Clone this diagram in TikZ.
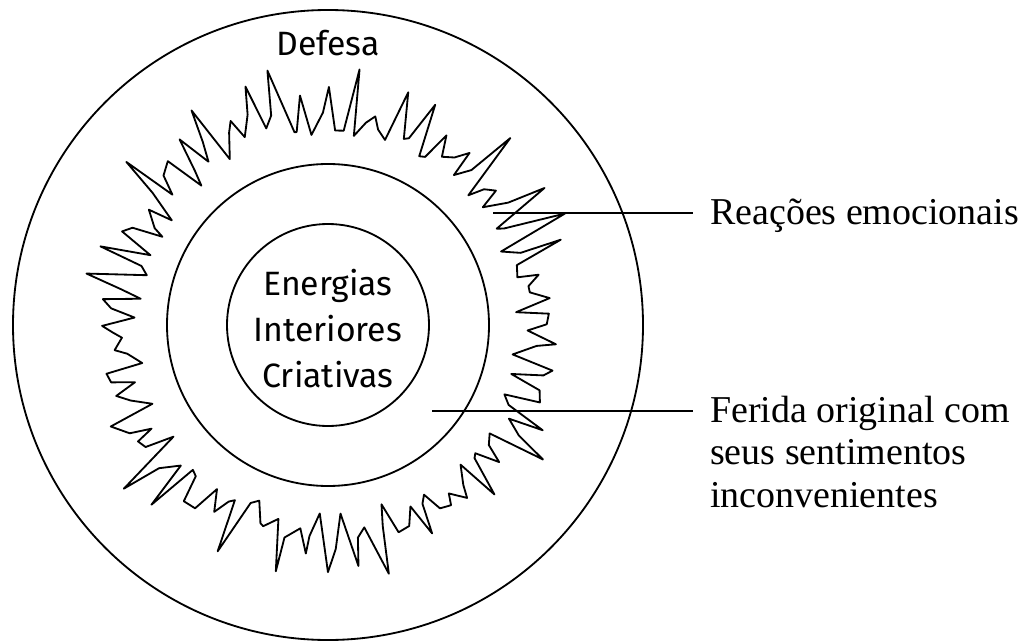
\documentclass[tikz,border=0pt]{standalone}
\usepackage{fontspec}
\setsansfont{Fira Sans}
\newfontfamily\tagfont{Liberation Serif}
\usepackage{tikz}
\usetikzlibrary{positioning, calc}

\begin{document}
\begin{tikzpicture}[x=0.25mm, y=-0.25mm,
                ring/.style={line width=1.3pt},
                leader/.style={line width=1.3pt},
                core/.style={font=\sffamily\fontsize{24}{32.7}\selectfont, align=center, inner sep=0pt},
                tag/.style={font=\tagfont\fontsize{27}{30.2}\selectfont, align=left, inner xsep=12pt, inner ysep=0pt}]
                \useasboundingbox (0,0) rectangle (1020,642);
                \coordinate (ctr) at (328,325);

                % Circles
                \draw[ring] (ctr) circle[radius=315];
                \draw[ring] (ctr) circle[radius=161];
                \draw[ring] (ctr) circle[radius=101];

                % Jagged ring - peak, valley, kink
                \pgfmathsetseed{1977}
                \foreach \i in {0,...,167} {
                    \pgfmathtruncatemacro\k{mod(\i,3)}
                    \ifcase\k \def\jb{208}\def\jm{56}\or \def\jb{186}\def\jm{22}\else \def\jb{192}\def\jm{38}\fi
                    \pgfmathsetmacro\ja{\i*2.142857 + 1.8*(rnd-0.5)}
                    \pgfmathsetmacro\jr{\jb + \jm*rnd}
                    \coordinate (j\i) at ($(ctr)+(\ja:\jr)$);
                }
                \draw[ring, line join=round] (j0) \foreach \i in {1,...,167} { -- (j\i) } -- cycle;

                % Texts
                \node[core] (defesa) at (328,43) {Defesa};
                \node[core] (energias) at (328,329) {Energias\\Interiores\\Criativas};
                \node[tag, anchor=base west] (reac) at (693,224) {Reações emocionais};
                \node[tag, anchor=base west] (ferida) at (693,507) {Ferida original com\\seus sentimentos\\inconvenientes};

                % Leaders
                \coordinate (reacStart) at (493,213);
                \coordinate (feridaStart) at (432,411);
                \draw[leader] (reacStart) -- (reac.west |- reacStart);
                \draw[leader] (feridaStart) -- (ferida.west |- feridaStart);
            \end{tikzpicture}
\end{document}
